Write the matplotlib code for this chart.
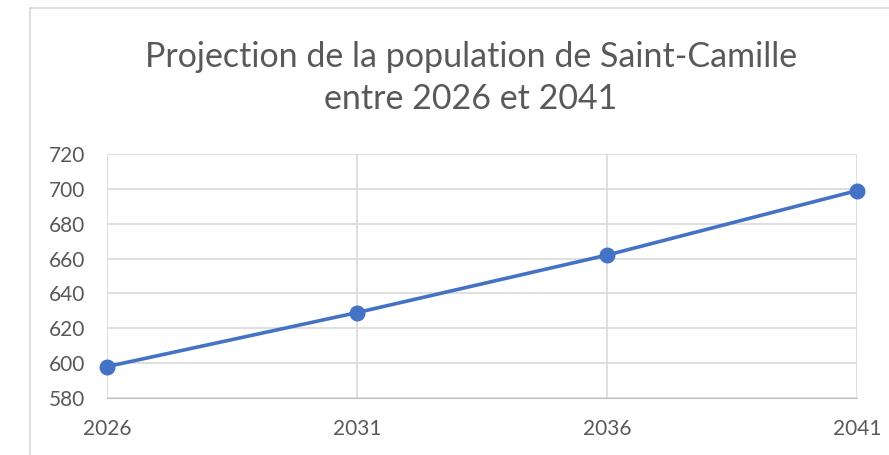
import matplotlib.pyplot as plt
from matplotlib.lines import Line2D

# Data
years = ["2026", "2031", "2036", "2041"]
population = [598, 629, 662, 699]
y_ticks = [580, 600, 620, 640, 660, 680, 700, 720]

plt.rcParams['font.family'] = ['Lato', 'DejaVu Sans']

W, H = 889, 455
fig = plt.figure(figsize=(W / 100, H / 100), dpi=100)

# chart frame (left and top edges visible)
fig.add_artist(Line2D([30 / W, 30 / W], [0, 1 - 8 / H], color="#d9d9d9", lw=1.2))
fig.add_artist(Line2D([30 / W, 1], [1 - 8 / H, 1 - 8 / H], color="#d9d9d9", lw=1.2))

# plot area: x 107..857, y 154..398 (pixels)
ax = fig.add_axes([107 / W, 1 - 398 / H, 750 / W, 244 / H])

x = list(range(len(years)))
ax.plot(x, population, color="#4472c4", lw=2.6, marker="o", markersize=10.5, zorder=3, clip_on=False)

ax.set_xlim(0, len(years) - 1)
ax.set_ylim(580, 720)
ax.set_yticks(y_ticks)
ax.set_xticks(x)
ax.set_xticklabels(years)

ax.grid(True, axis="both", color="#d9d9d9", lw=1.2)
ax.set_axisbelow(True)
for s in ax.spines.values():
    s.set_visible(False)
ax.spines["bottom"].set_visible(True)
ax.spines["bottom"].set_color("#bfbfbf")
ax.tick_params(length=0, labelsize=15, colors="#595959")
ax.tick_params(axis="y", pad=16)
ax.tick_params(axis="x", pad=15)

fig.text(471 / W, 1 - 78 / H, "Projection de la population de Saint-Camille\nentre 2026 et 2041",
         ha="center", va="center", fontsize=24.5, color="#595959", linespacing=1.4)

fig.savefig("out.png", dpi=100)
